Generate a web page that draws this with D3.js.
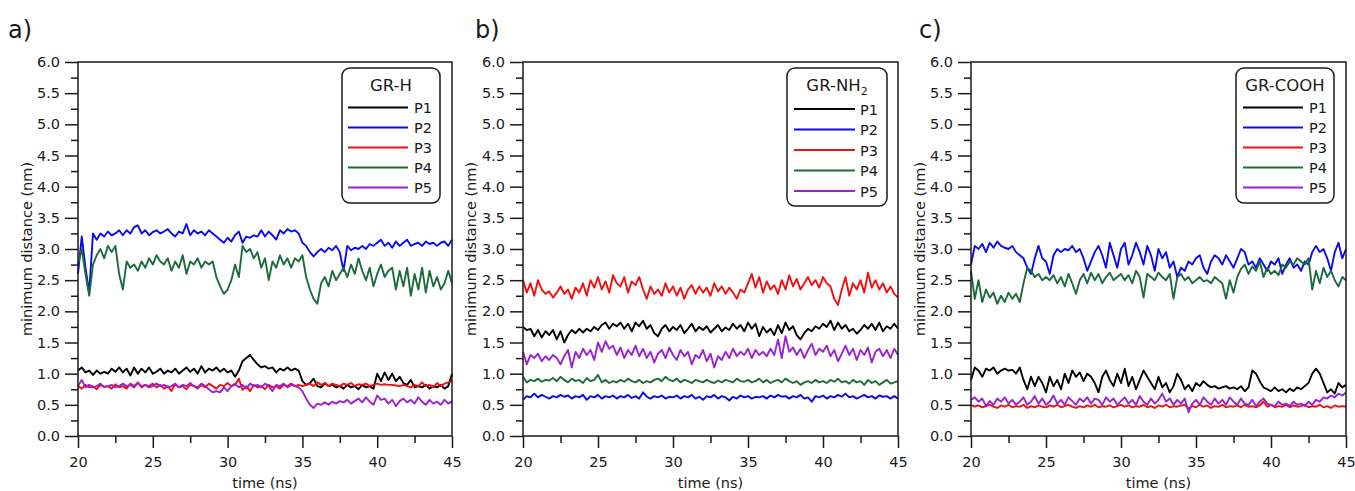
<!DOCTYPE html>
<html>
<head>
<meta charset="utf-8">
<script src="https://cdn.jsdelivr.net/npm/d3@7"></script>
<style>
  body { margin: 0; background: #fff; }
  svg { display: block; }
  text { font-family: "DejaVu Sans", sans-serif; fill: #1a1a1a; }
</style>
</head>
<body>
<svg id="chart" width="1355" height="491"></svg>
<script>
// time axis: one sample every 0.25 ns from 20 to 45 ns
const timeNs = d3.range(101).map(i => 20 + i * 0.25);

const seriesNames = ["P1", "P2", "P3", "P4", "P5"];
const seriesColors = ["#000000", "#0a0af0", "#f01010", "#1b6b3d", "#9b22cf"];
const panelLabels = ["a)", "b)", "c)"];
const xTicks = [20, 25, 30, 35, 40, 45];
const xMinorTicks = [22.5, 27.5, 32.5, 37.5, 42.5];
const yTicks = [0, 0.5, 1, 1.5, 2, 2.5, 3, 3.5, 4, 4.5, 5, 5.5, 6];
const yMinorTicks = [0.25, 0.75, 1.25, 1.75, 2.25, 2.75, 3.25, 3.75, 4.25, 4.75, 5.25, 5.75];

// a) GR-H
const grH_P1 = [
  1.05,1.1,1.02,1.05,0.98,1.05,1.0,1.03,1.0,1.08,1.03,1.1,1.02,1.08,0.97,1.1,1.0,1.08,1.02,1.1,
  1.0,1.03,1.08,1.0,1.05,1.02,1.08,1.0,1.05,1.1,1.03,1.08,1.0,1.12,1.02,1.08,1.05,1.1,1.03,1.08,
  1.02,1.05,0.95,1.05,1.2,1.25,1.3,1.22,1.15,1.1,1.12,1.08,1.1,1.02,1.08,1.05,1.1,1.05,1.08,1.05,
  0.88,0.82,0.85,0.92,0.8,0.78,0.85,0.8,0.82,0.78,0.8,0.76,0.82,0.78,0.8,0.75,0.82,0.78,0.8,0.76,
  1.0,0.88,1.02,0.9,1.0,0.88,0.95,0.85,0.82,0.9,0.78,0.8,0.78,0.82,0.76,0.8,0.78,0.82,0.76,0.8,
  1.0];
const grH_P2 = [
  2.6,3.2,2.7,2.3,3.25,3.15,3.25,3.2,3.28,3.22,3.25,3.3,3.22,3.3,3.25,3.35,3.38,3.25,3.3,3.22,
  3.27,3.3,3.25,3.28,3.32,3.25,3.2,3.28,3.25,3.4,3.22,3.3,3.25,3.28,3.22,3.3,3.25,3.2,3.15,3.1,
  3.18,3.12,3.22,3.28,3.1,3.2,3.18,3.22,3.2,3.3,3.2,3.28,3.22,3.15,3.3,3.25,3.32,3.28,3.3,3.25,
  3.1,3.05,2.95,2.88,2.95,3.0,2.95,3.02,2.98,3.05,2.95,2.65,3.05,2.98,3.02,3.0,3.05,3.0,3.08,3.05,
  3.1,3.15,3.05,3.1,3.02,3.12,3.05,3.1,3.15,3.05,3.08,3.1,3.05,3.12,3.08,3.1,3.05,3.1,3.12,3.05,
  3.15];
const grH_P3 = [
  0.8,0.76,0.82,0.78,0.8,0.75,0.82,0.79,0.8,0.76,0.83,0.78,0.8,0.76,0.84,0.8,0.86,0.78,0.82,0.8,
  0.84,0.78,0.82,0.76,0.8,0.72,0.83,0.78,0.8,0.75,0.82,0.8,0.76,0.82,0.78,0.84,0.8,0.76,0.82,0.8,
  0.85,0.8,0.82,0.92,0.74,0.8,0.72,0.82,0.78,0.8,0.75,0.82,0.78,0.8,0.76,0.82,0.8,0.84,0.8,0.82,
  0.8,0.82,0.84,0.8,0.86,0.82,0.85,0.8,0.84,0.82,0.8,0.84,0.82,0.85,0.8,0.83,0.82,0.84,0.8,0.82,
  0.84,0.82,0.83,0.82,0.82,0.81,0.8,0.82,0.8,0.78,0.82,0.8,0.86,0.8,0.82,0.78,0.85,0.8,0.84,0.86,
  0.88];
const grH_P4 = [
  2.75,3.0,2.6,2.25,2.75,2.9,3.0,2.85,3.05,2.95,3.05,2.6,2.35,2.8,2.7,2.75,2.65,2.8,2.7,2.85,
  2.75,2.9,2.8,2.75,2.85,2.65,2.8,2.7,2.9,2.6,2.8,2.75,2.85,2.7,2.8,2.75,2.8,2.55,2.4,2.28,
  2.35,2.5,2.75,2.55,3.05,2.95,3.0,2.85,2.95,2.7,2.85,2.5,2.8,2.7,2.9,2.75,2.85,2.7,2.85,2.8,
  2.9,2.55,2.35,2.2,2.12,2.45,2.55,2.4,2.65,2.5,2.6,2.7,2.55,2.75,2.6,2.85,2.65,2.5,2.7,2.4,
  2.6,2.75,2.55,2.65,2.7,2.35,2.65,2.4,2.7,2.25,2.6,2.35,2.7,2.3,2.65,2.4,2.55,2.35,2.45,2.65,
  2.45];
const grH_P5 = [
  0.8,0.9,0.78,0.82,0.78,0.8,0.84,0.78,0.8,0.82,0.78,0.8,0.84,0.8,0.82,0.78,0.85,0.8,0.82,0.78,
  0.8,0.84,0.8,0.82,0.78,0.8,0.84,0.78,0.82,0.8,0.85,0.8,0.78,0.84,0.8,0.75,0.7,0.72,0.7,0.78,
  0.72,0.8,0.84,0.78,0.82,0.76,0.84,0.8,0.82,0.78,0.84,0.8,0.72,0.82,0.8,0.84,0.78,0.82,0.8,0.78,
  0.72,0.6,0.5,0.45,0.52,0.5,0.54,0.5,0.55,0.52,0.56,0.54,0.58,0.52,0.56,0.6,0.54,0.62,0.55,0.5,
  0.65,0.58,0.6,0.52,0.58,0.48,0.56,0.6,0.54,0.58,0.52,0.62,0.55,0.5,0.58,0.52,0.55,0.5,0.58,0.52,
  0.56];

// b) GR-NH2
const grNH2_P1 = [
  1.75,1.7,1.72,1.6,1.7,1.58,1.68,1.62,1.7,1.55,1.68,1.5,1.62,1.7,1.65,1.72,1.66,1.72,1.68,1.75,
  1.7,1.78,1.82,1.72,1.8,1.76,1.82,1.72,1.8,1.68,1.82,1.76,1.85,1.72,1.78,1.65,1.6,1.72,1.78,1.68,
  1.75,1.7,1.78,1.65,1.72,1.8,1.68,1.75,1.7,1.76,1.66,1.72,1.78,1.68,1.74,1.7,1.8,1.72,1.78,1.68,
  1.82,1.72,1.8,1.6,1.75,1.66,1.72,1.62,1.78,1.65,1.82,1.7,1.76,1.62,1.55,1.65,1.72,1.68,1.76,1.72,
  1.8,1.75,1.85,1.7,1.82,1.72,1.78,1.68,1.72,1.64,1.7,1.78,1.72,1.8,1.7,1.82,1.68,1.76,1.72,1.8,
  1.72];
const grNH2_P2 = [
  0.58,0.64,0.62,0.68,0.62,0.66,0.63,0.6,0.64,0.62,0.66,0.63,0.65,0.6,0.64,0.62,0.66,0.58,0.64,0.62,
  0.66,0.6,0.64,0.62,0.65,0.6,0.64,0.62,0.66,0.61,0.64,0.6,0.7,0.63,0.6,0.64,0.62,0.65,0.6,0.63,
  0.62,0.65,0.6,0.64,0.62,0.66,0.6,0.63,0.58,0.64,0.62,0.66,0.6,0.64,0.62,0.57,0.63,0.6,0.65,0.62,
  0.64,0.6,0.63,0.62,0.64,0.6,0.65,0.62,0.66,0.63,0.64,0.6,0.64,0.62,0.66,0.6,0.62,0.55,0.64,0.62,
  0.65,0.6,0.64,0.62,0.66,0.63,0.68,0.62,0.64,0.6,0.63,0.66,0.62,0.64,0.6,0.65,0.63,0.64,0.6,0.64,
  0.6];
const grNH2_P3 = [
  2.5,2.3,2.45,2.25,2.5,2.35,2.28,2.32,2.22,2.3,2.4,2.28,2.35,2.2,2.38,2.3,2.45,2.25,2.5,2.38,
  2.55,2.35,2.48,2.3,2.58,2.45,2.4,2.55,2.3,2.48,2.42,2.55,2.35,2.2,2.4,2.28,2.35,2.25,2.45,2.3,
  2.4,2.25,2.38,2.2,2.35,2.42,2.28,2.4,2.3,2.38,2.25,2.45,2.32,2.4,2.28,2.38,2.3,2.2,2.35,2.3,
  2.45,2.6,2.38,2.55,2.3,2.48,2.35,2.42,2.28,2.5,2.35,2.58,2.4,2.52,2.35,2.45,2.55,2.42,2.5,2.38,
  2.55,2.45,2.4,2.2,2.1,2.35,2.55,2.25,2.45,2.35,2.5,2.3,2.62,2.38,2.5,2.35,2.45,2.3,2.4,2.28,
  2.22];
const grNH2_P4 = [
  0.95,0.86,0.9,0.88,0.92,0.87,0.9,0.89,0.93,0.88,0.95,0.9,0.86,0.92,0.88,0.9,0.85,0.93,0.88,0.9,
  0.98,0.86,0.9,0.85,0.88,0.86,0.9,0.87,0.92,0.88,0.86,0.9,0.85,0.88,0.86,0.9,0.92,0.88,0.95,0.9,
  0.88,0.92,0.86,0.9,0.88,0.85,0.9,0.88,0.86,0.9,0.87,0.85,0.89,0.86,0.9,0.88,0.86,0.92,0.88,0.87,
  0.9,0.86,0.88,0.92,0.86,0.9,0.85,0.88,0.9,0.86,0.92,0.88,0.85,0.88,0.82,0.86,0.88,0.85,0.9,0.86,
  0.88,0.85,0.9,0.87,0.92,0.86,0.88,0.84,0.9,0.86,0.88,0.82,0.9,0.85,0.88,0.82,0.86,0.9,0.84,0.86,
  0.88];
const grNH2_P5 = [
  1.35,1.15,1.3,1.25,1.32,1.2,1.28,1.22,1.3,1.25,1.15,1.28,1.38,1.1,1.35,1.25,1.4,1.3,1.38,1.22,
  1.5,1.35,1.52,1.4,1.45,1.3,1.42,1.25,1.38,1.3,1.45,1.28,1.4,1.25,1.35,1.18,1.32,1.38,1.25,1.42,
  1.3,1.22,1.38,1.28,1.35,1.15,1.3,1.25,1.38,1.2,1.32,1.1,1.28,1.22,1.35,1.25,1.4,1.28,1.35,1.3,
  1.4,1.25,1.38,1.3,1.35,1.28,1.4,1.3,1.55,1.25,1.6,1.35,1.42,1.3,1.4,1.25,1.38,1.48,1.3,1.4,
  1.35,1.45,1.28,1.38,1.2,1.32,1.45,1.3,1.4,1.22,1.38,1.3,1.42,1.18,1.35,1.4,1.28,1.38,1.25,1.4,
  1.3];

// c) GR-COOH
const grCOOH_P1 = [
  0.9,1.1,1.05,0.95,1.08,1.05,1.1,1.0,1.05,1.08,1.05,1.06,1.0,1.1,0.9,0.75,0.95,0.8,0.95,0.85,
  0.7,0.95,0.8,0.9,0.75,1.0,0.85,1.05,0.95,1.02,0.88,1.0,0.95,0.85,0.7,0.95,1.05,0.9,0.8,1.0,
  0.85,1.08,0.8,0.95,0.75,0.9,1.05,0.95,0.85,0.75,0.95,0.78,0.85,0.7,0.8,1.0,0.9,0.75,0.82,0.72,
  0.85,0.8,0.88,0.82,0.78,0.8,0.76,0.78,0.8,0.76,0.78,0.75,0.8,0.72,0.78,1.05,1.0,0.88,0.78,0.75,
  0.72,0.78,0.72,0.75,0.7,0.76,0.72,0.78,0.75,0.8,0.85,1.0,1.08,1.0,0.85,0.7,0.75,0.68,0.85,0.78,
  0.82];
const grCOOH_P2 = [
  2.75,3.05,3.0,3.08,2.95,3.1,3.02,3.12,3.05,3.02,3.0,3.05,2.95,2.9,2.85,2.7,2.6,2.85,3.05,2.85,
  2.8,2.6,2.9,3.0,2.95,3.0,2.98,3.05,2.95,3.0,2.85,2.65,2.8,2.95,3.05,2.9,2.7,3.1,2.9,2.7,
  3.0,3.1,2.75,2.9,3.1,2.95,2.75,3.05,2.9,2.65,3.0,2.85,2.95,2.7,2.8,2.55,2.7,2.65,2.8,2.75,
  2.85,2.9,2.7,2.6,2.8,2.9,2.85,2.75,2.9,2.8,2.7,2.85,3.0,2.95,2.75,2.8,2.7,2.85,2.75,2.65,
  2.8,2.75,2.85,2.6,2.75,2.85,2.7,2.75,2.65,2.8,2.75,2.95,3.05,2.95,3.0,2.85,2.65,2.95,3.1,2.85,
  3.0];
const grCOOH_P3 = [
  0.5,0.47,0.49,0.46,0.48,0.5,0.47,0.45,0.49,0.47,0.5,0.46,0.48,0.47,0.5,0.45,0.48,0.46,0.49,0.47,
  0.46,0.49,0.47,0.5,0.46,0.48,0.5,0.47,0.45,0.48,0.46,0.49,0.47,0.5,0.46,0.48,0.47,0.49,0.46,0.48,
  0.5,0.47,0.49,0.46,0.48,0.47,0.5,0.46,0.48,0.45,0.49,0.47,0.5,0.46,0.48,0.47,0.49,0.5,0.44,0.48,
  0.46,0.5,0.47,0.49,0.45,0.48,0.47,0.5,0.46,0.48,0.47,0.49,0.46,0.5,0.47,0.48,0.46,0.49,0.55,0.47,
  0.5,0.46,0.48,0.47,0.5,0.46,0.49,0.47,0.48,0.5,0.46,0.48,0.47,0.5,0.46,0.48,0.45,0.49,0.47,0.48,
  0.47];
const grCOOH_P4 = [
  2.65,2.2,2.5,2.15,2.35,2.22,2.3,2.12,2.25,2.15,2.3,2.2,2.28,2.15,2.45,2.7,2.65,2.55,2.6,2.5,
  2.55,2.5,2.58,2.45,2.55,2.4,2.6,2.45,2.28,2.5,2.6,2.45,2.62,2.5,2.6,2.45,2.55,2.62,2.5,2.55,
  2.6,2.5,2.58,2.45,2.65,2.55,2.22,2.6,2.55,2.5,2.62,2.55,2.5,2.6,2.2,2.55,2.6,2.5,2.55,2.45,
  2.5,2.55,2.48,2.5,2.45,2.55,2.5,2.45,2.2,2.5,2.3,2.55,2.68,2.75,2.6,2.72,2.65,2.8,2.55,2.7,
  2.6,2.65,2.58,2.75,2.7,2.8,2.75,2.85,2.8,2.75,2.85,2.35,2.65,2.45,2.7,2.55,2.65,2.5,2.4,2.55,
  2.5];
const grCOOH_P5 = [
  0.58,0.62,0.55,0.6,0.48,0.56,0.5,0.6,0.55,0.62,0.52,0.58,0.5,0.55,0.62,0.5,0.55,0.64,0.52,0.6,
  0.5,0.55,0.65,0.52,0.58,0.5,0.62,0.56,0.5,0.6,0.55,0.62,0.52,0.6,0.58,0.5,0.62,0.55,0.6,0.5,
  0.56,0.62,0.52,0.58,0.5,0.64,0.55,0.5,0.6,0.52,0.58,0.68,0.55,0.6,0.5,0.58,0.52,0.6,0.38,0.52,
  0.58,0.5,0.62,0.55,0.5,0.6,0.52,0.58,0.5,0.62,0.55,0.5,0.6,0.52,0.5,0.58,0.48,0.55,0.6,0.52,
  0.5,0.48,0.55,0.5,0.52,0.48,0.55,0.5,0.52,0.48,0.55,0.5,0.58,0.55,0.62,0.6,0.65,0.62,0.68,0.65,
  0.7];

// panel geometry
const plotTop = 62, plotBottom = 436;
const panels = [
  { label: panelLabels[0], labelX: 8, title: ["GR-H", ""], series: [grH_P1, grH_P2, grH_P3, grH_P4, grH_P5],
    x0: 78, x1: 452, yLabelX: 27,
    legend: { x: 342, w: 98, h: 135, cx: 391, titleY: 91, firstY: 107.5, step: 20, l0: 348, l1: 408, tx: 414 } },
  { label: panelLabels[1], labelX: 475, title: ["GR-NH", "2"], series: [grNH2_P1, grNH2_P2, grNH2_P3, grNH2_P4, grNH2_P5],
    x0: 523, x1: 898, yLabelX: 471,
    legend: { x: 787, w: 100, h: 138, cx: 837, titleY: 91, firstY: 109, step: 20.5, l0: 794, l1: 855, tx: 860 } },
  { label: panelLabels[2], labelX: 919, title: ["GR-COOH", ""], series: [grCOOH_P1, grCOOH_P2, grCOOH_P3, grCOOH_P4, grCOOH_P5],
    x0: 971, x1: 1346, yLabelX: 920,
    legend: { x: 1236, w: 98, h: 135, cx: 1285, titleY: 91, firstY: 107.5, step: 20, l0: 1243, l1: 1303, tx: 1309 } }
];

const svg = d3.select("#chart");

panels.forEach(p => {
  const g = svg.append("g");

  const x = d3.scaleLinear().domain([20, 45]).range([p.x0, p.x1]);
  const y = d3.scaleLinear().domain([0, 6]).range([plotBottom, plotTop]);

  // data lines
  const line = d3.line()
    .x((d, i) => x(timeNs[i]))
    .y(d => y(d));

  p.series.forEach((vals, k) => {
    g.append("path")
      .datum(vals)
      .attr("d", line)
      .attr("fill", "none")
      .attr("stroke", seriesColors[k])
      .attr("stroke-width", 1.9)
      .attr("stroke-linejoin", "round");
  });

  // frame
  g.append("rect")
    .attr("x", p.x0).attr("y", plotTop)
    .attr("width", p.x1 - p.x0).attr("height", plotBottom - plotTop)
    .attr("fill", "none").attr("stroke", "#1a1a1a").attr("stroke-width", 1.5);

  // y axis
  g.append("g")
    .attr("transform", `translate(${p.x0},0)`)
    .call(d3.axisLeft(y).tickValues(yTicks).tickFormat(d3.format(".1f")).tickSize(13).tickSizeOuter(0).tickPadding(5));
  g.append("g")
    .attr("transform", `translate(${p.x0},0)`)
    .call(d3.axisLeft(y).tickValues(yMinorTicks).tickFormat("").tickSize(7).tickSizeOuter(0));

  // x axis
  g.append("g")
    .attr("transform", `translate(0,${plotBottom})`)
    .call(d3.axisBottom(x).tickValues(xTicks).tickFormat(d3.format("d")).tickSize(12).tickSizeOuter(0).tickPadding(9));
  g.append("g")
    .attr("transform", `translate(0,${plotBottom})`)
    .call(d3.axisBottom(x).tickValues(xMinorTicks).tickFormat("").tickSize(7).tickSizeOuter(0));

  g.selectAll(".domain").remove();
  g.selectAll(".tick line").attr("stroke", "#1a1a1a").attr("stroke-width", 1.5);
  g.selectAll(".tick text").attr("font-size", 14.5).attr("fill", "#1a1a1a")
    .attr("font-family", "DejaVu Sans, sans-serif");

  // axis titles
  g.append("text")
    .attr("x", (p.x0 + p.x1) / 2).attr("y", 488)
    .attr("text-anchor", "middle").attr("font-size", 14.5)
    .text("time (ns)");
  g.append("text")
    .attr("transform", `translate(${p.yLabelX},${(plotTop + plotBottom) / 2}) rotate(-90)`)
    .attr("text-anchor", "middle").attr("dy", "0.35em").attr("font-size", 14.5)
    .text("minimum distance (nm)");

  // panel label
  g.append("text")
    .attr("x", p.labelX).attr("y", 38)
    .attr("font-family", "Open Sans, sans-serif").attr("font-size", 24)
    .text(p.label);

  // legend
  const L = p.legend;
  const lg = g.append("g");
  lg.append("rect")
    .attr("x", L.x).attr("y", 68).attr("width", L.w).attr("height", L.h)
    .attr("rx", 8).attr("ry", 8)
    .attr("fill", "#fff").attr("stroke", "#1a1a1a").attr("stroke-width", 1.5);
  const title = lg.append("text")
    .attr("x", L.cx).attr("y", L.titleY)
    .attr("text-anchor", "middle").attr("font-size", 16.5)
    .text(p.title[0]);
  if (p.title[1]) {
    title.append("tspan").attr("font-size", 11).attr("dy", 4).text(p.title[1]);
  }
  seriesNames.forEach((name, k) => {
    const yy = L.firstY + k * L.step;
    lg.append("line")
      .attr("x1", L.l0).attr("x2", L.l1).attr("y1", yy).attr("y2", yy)
      .attr("stroke", seriesColors[k]).attr("stroke-width", 2);
    lg.append("text")
      .attr("x", L.tx).attr("y", yy + 5.5)
      .attr("font-size", 14.5)
      .text(name);
  });
});
</script>
</body>
</html>
